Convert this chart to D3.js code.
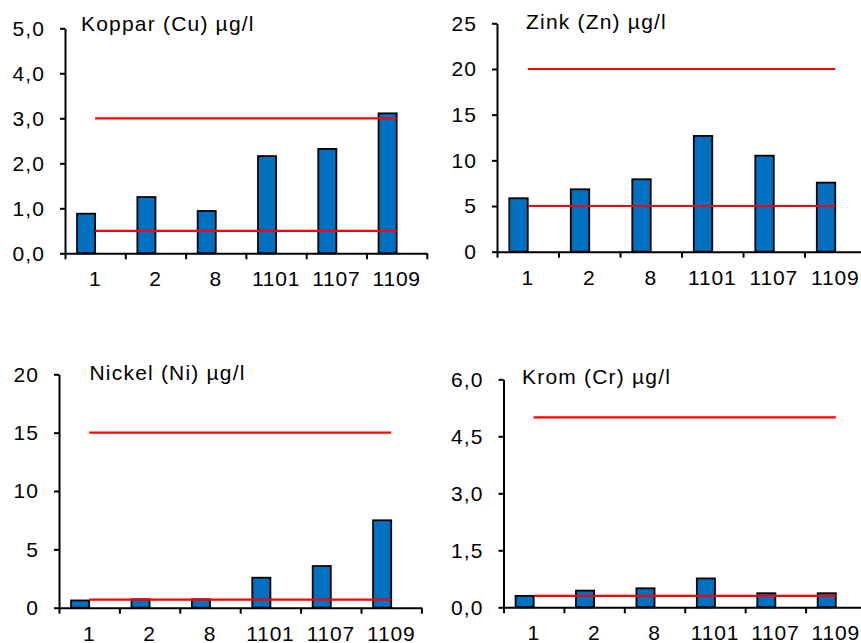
<!DOCTYPE html>
<html>
<head>
<meta charset="utf-8">
<script src="https://cdn.jsdelivr.net/npm/d3@7"></script>
<style>
  body { margin: 0; background: #fff; }
  text { font-family: "Liberation Sans", Arial, sans-serif; }
</style>
</head>
<body>
<svg id="chart" width="861" height="643"></svg>
<script>
// stations along the x axis
var categories = ['1', '2', '8', '1101', '1107', '1109'];

// measured values, µg/l
var cuValues = [0.88, 1.25, 0.94, 2.16, 2.32, 3.11];
var znValues = [5.85, 6.83, 7.93, 12.67, 10.51, 7.56];
var niValues = [0.62, 0.72, 0.72, 2.57, 3.57, 7.49];
var crValues = [0.30, 0.44, 0.50, 0.76, 0.37, 0.37];

// reference levels (red lines)
var cuLimits = [0.5, 3.0];
var znLimits = [5, 20];
var niLimits = [0.7, 15];
var crLimits = [0.3, 5];

// y tick labels
var cuTicks = [0, 1, 2, 3, 4, 5];
var znTicks = [0, 5, 10, 15, 20, 25];
var niTicks = [0, 5, 10, 15, 20];
var crTicks = [0, 1.5, 3, 4.5, 6];

var titles = ['Koppar (Cu) µg/l', 'Zink (Zn) µg/l', 'Nickel (Ni) µg/l', 'Krom (Cr) µg/l'];

var sv = d3.formatLocale({ decimal: ',', thousands: ' ', grouping: [3], currency: ['', ''] });
var oneDec = sv.format('.1f');
var noDec = sv.format('d');

// where each panel sits on the page
var panels = [
  { values: cuValues, limits: cuLimits, ticks: cuTicks, fmt: oneDec, title: titles[0],
    left: 65, right: 426.8, zero: 253.3, top: 28.3, tx: 81, ty: 31 },
  { values: znValues, limits: znLimits, ticks: znTicks, fmt: noDec, title: titles[1],
    left: 497, right: 866, zero: 251.7, top: 23.3, tx: 526, ty: 28.5 },
  { values: niValues, limits: niLimits, ticks: niTicks, fmt: noDec, title: titles[2],
    left: 59, right: 421.4, zero: 607.7, top: 374.3, tx: 89.5, ty: 380 },
  { values: crValues, limits: crLimits, ticks: crTicks, fmt: oneDec, title: titles[3],
    left: 503.5, right: 866, zero: 607.3, top: 379.3, tx: 522, ty: 383.5 }
];

var svg = d3.select('#chart');

panels.forEach(function(p) {
  var g = svg.append('g');

  var x = d3.scaleBand().domain(categories).range([p.left, p.right]).padding(0);
  var y = d3.scaleLinear()
    .domain([0, d3.max(p.ticks)])
    .range([p.zero, p.top]);
  var bw = x.bandwidth() * 0.3;
  var center = function(c) { return x(c) + x.bandwidth() / 2; };

  // bars - right edge sits on the category centre
  g.selectAll('rect.bar')
    .data(p.values)
    .enter()
    .append('rect')
    .attr('class', 'bar')
    .attr('x', function(d, i) { return center(categories[i]) - bw; })
    .attr('y', function(d) { return y(d); })
    .attr('width', bw)
    .attr('height', function(d) { return y(0) - y(d); })
    .attr('fill', '#0070c0')
    .attr('stroke', '#000')
    .attr('stroke-width', 1.8);

  // red guide lines, from first to last category centre
  p.limits.forEach(function(lim) {
    g.append('path')
      .datum(categories)
      .attr('d', d3.line()
        .x(function(c) { return center(c); })
        .y(function() { return y(lim); }))
      .attr('fill', 'none')
      .attr('stroke', '#ff0000')
      .attr('stroke-width', 2.2);
  });

  // y axis
  var yAxis = g.append('g')
    .attr('transform', 'translate(' + p.left + ',0)')
    .call(d3.axisLeft(y).tickValues(p.ticks).tickFormat(p.fmt).tickSize(5).tickSizeOuter(0).tickPadding(15));
  yAxis.select('.domain').attr('stroke', '#000').attr('stroke-width', 2);
  yAxis.selectAll('.tick line').attr('stroke', '#000').attr('stroke-width', 2);
  yAxis.selectAll('.tick text')
    .attr('font-size', 21)
    .attr('letter-spacing', '1.1px')
    .attr('fill', '#000')
    .attr('font-family', '"Liberation Sans", Arial, sans-serif');

  // x axis: tick marks on category boundaries
  var xb = d3.scaleLinear().domain([0, categories.length]).range([p.left, p.right]);
  var xTicks = g.append('g')
    .attr('transform', 'translate(0,' + p.zero + ')')
    .call(d3.axisBottom(xb).tickValues(d3.range(categories.length + 1)).tickFormat('').tickSize(6).tickSizeOuter(0));
  xTicks.select('.domain').attr('stroke', '#000').attr('stroke-width', 2);
  xTicks.selectAll('.tick line').attr('stroke', '#000').attr('stroke-width', 2);

  // x axis labels at the category centres
  var xLab = g.append('g')
    .attr('transform', 'translate(0,' + p.zero + ')')
    .call(d3.axisBottom(x).tickSize(0).tickPadding(18));
  xLab.select('.domain').remove();
  xLab.selectAll('.tick text')
    .attr('font-size', 21)
    .attr('letter-spacing', '0.8px')
    .attr('fill', '#000')
    .attr('font-family', '"Liberation Sans", Arial, sans-serif');

  g.append('text')
    .attr('x', p.tx)
    .attr('y', p.ty)
    .attr('font-size', 21)
    .attr('letter-spacing', '1.2px')
    .text(p.title);
});
</script>
</body>
</html>
